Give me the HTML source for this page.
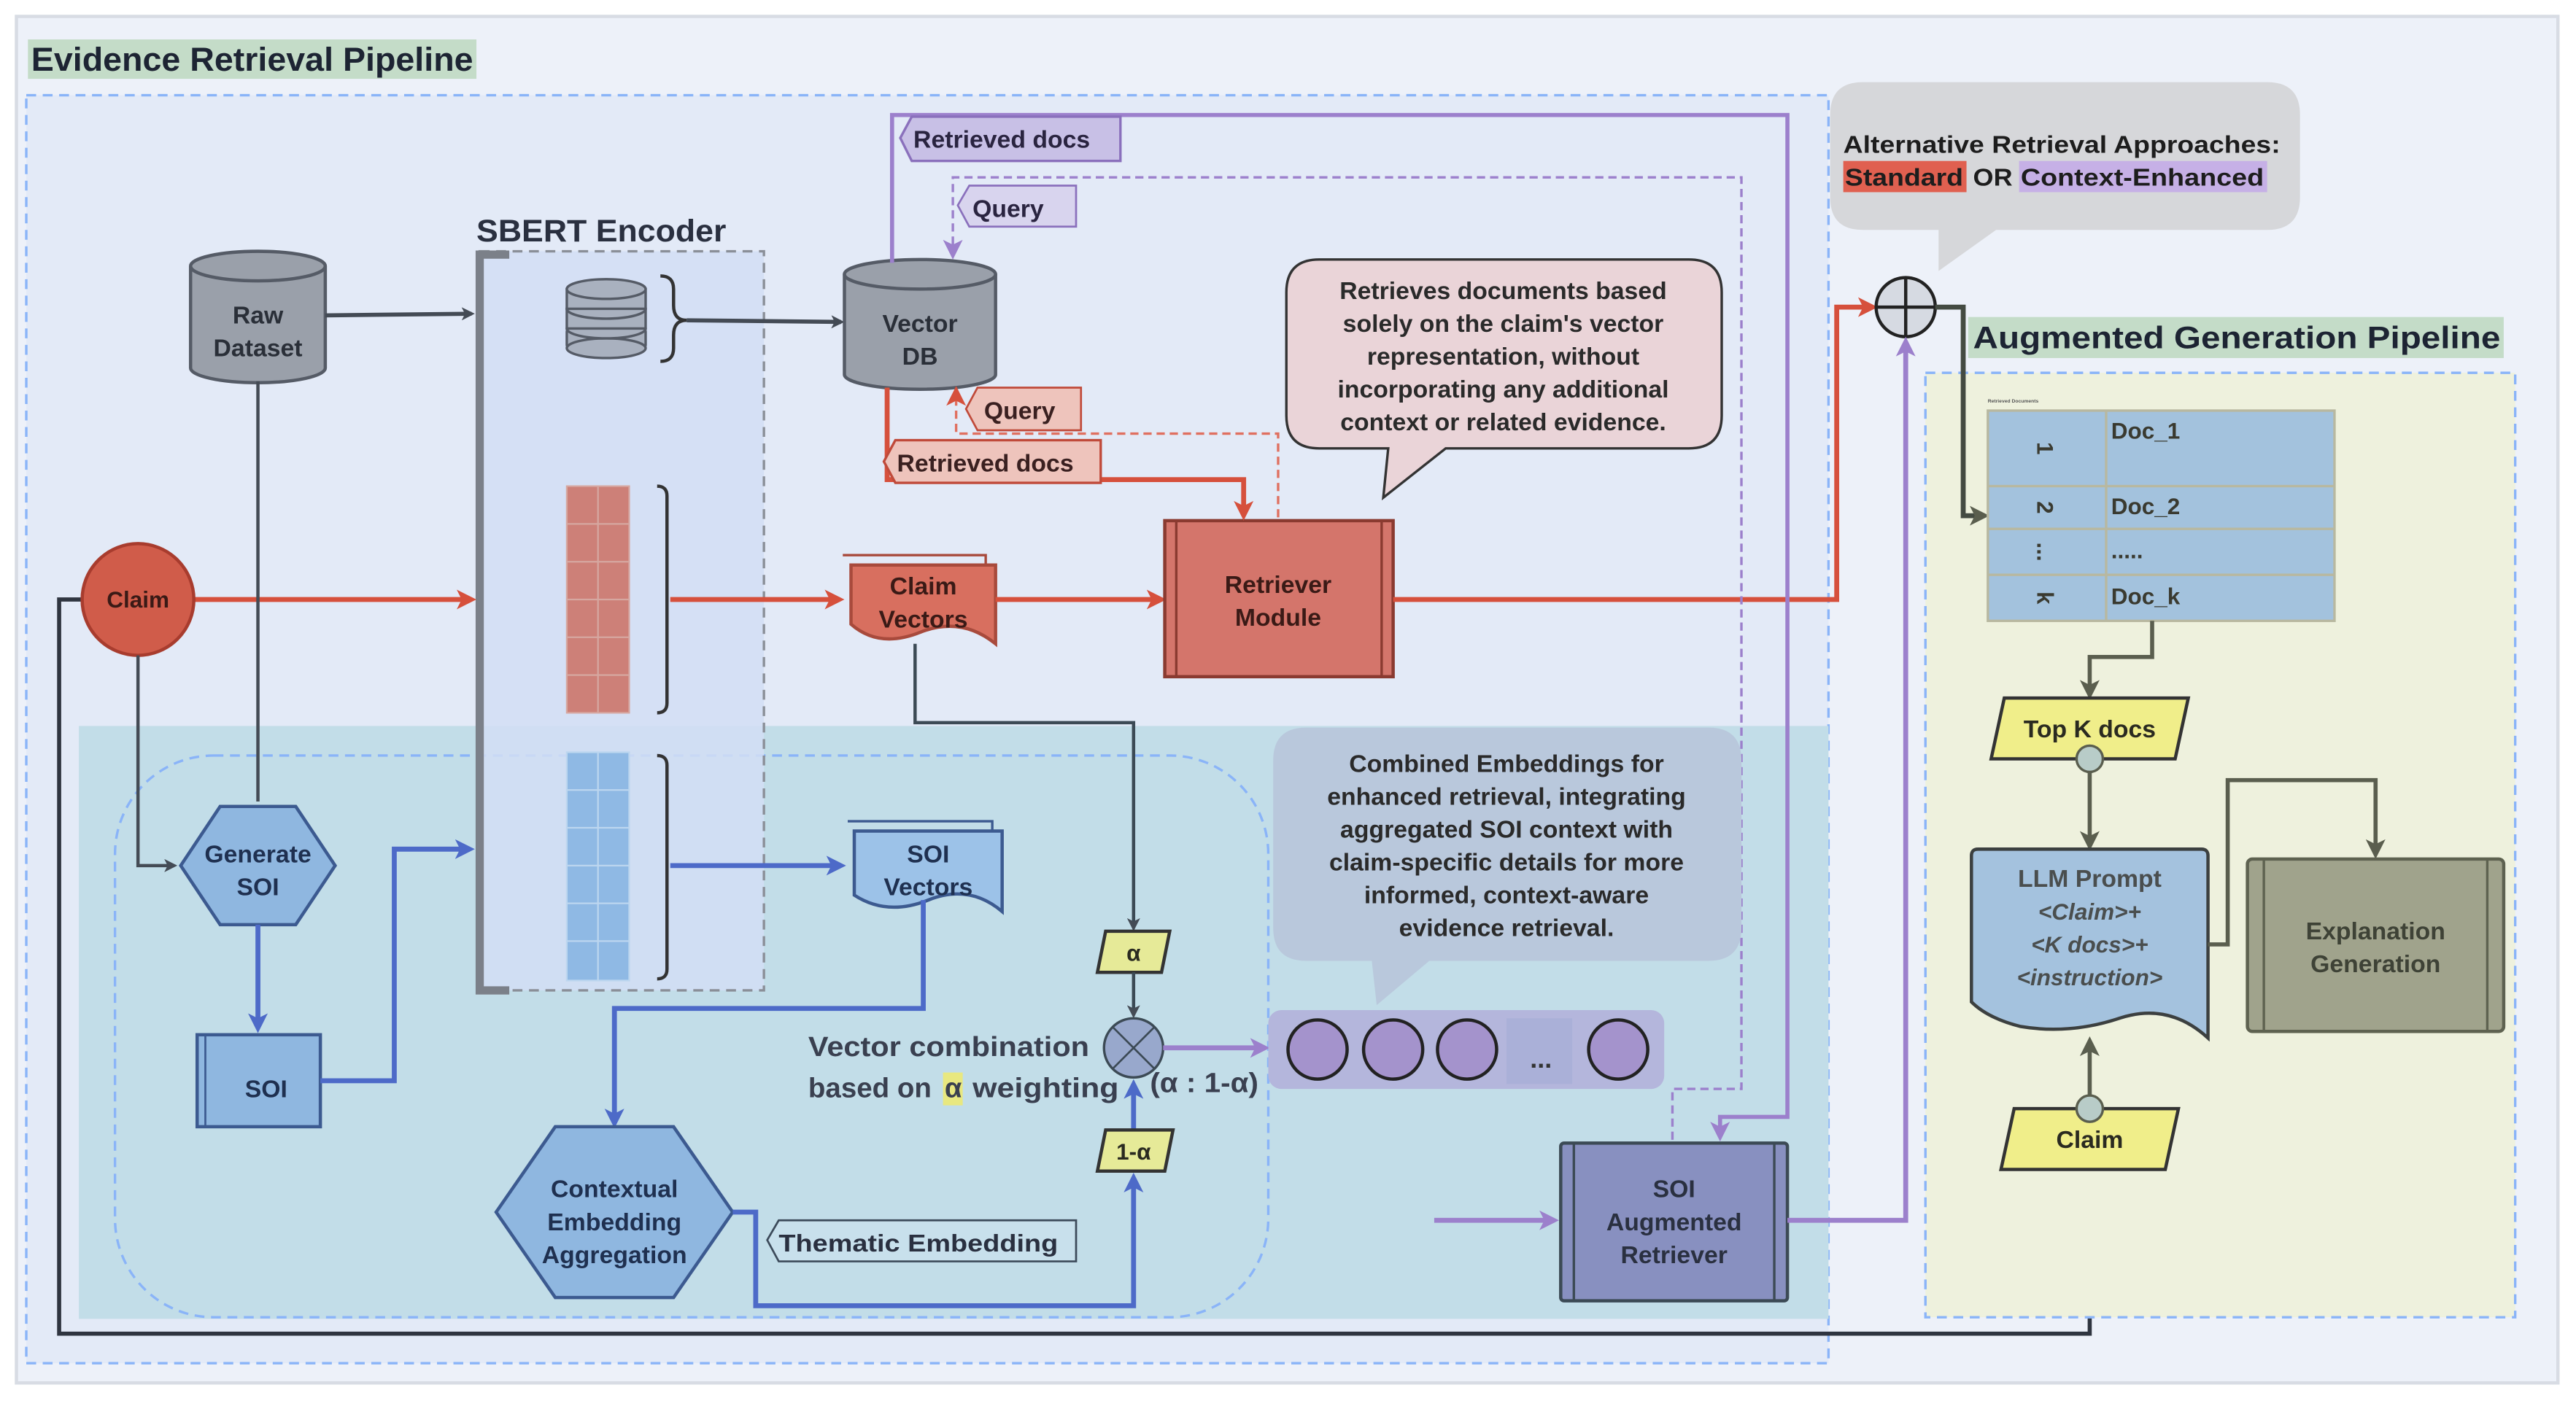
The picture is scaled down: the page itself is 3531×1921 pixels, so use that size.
<!DOCTYPE html>
<html><head><meta charset="utf-8"><style>
html,body{margin:0;padding:0;background:#fff;}
svg{display:block;}
text{font-family:"Liberation Sans",sans-serif;font-weight:bold;}
</style></head><body>
<svg width="3531" height="1921" viewBox="0 0 1568 853" preserveAspectRatio="none" xmlns="http://www.w3.org/2000/svg">
<defs>
<marker id="ad" markerWidth="8" markerHeight="8" refX="6" refY="4" orient="auto" markerUnits="userSpaceOnUse"><path d="M0,0 L8,4 L0,8 L2,4z" fill="#444b55"/></marker>
<marker id="ar" markerWidth="12" markerHeight="12" refX="9" refY="6" orient="auto" markerUnits="userSpaceOnUse"><path d="M0,0 L12,6 L0,12 L3,6z" fill="#d6503c"/></marker>
<marker id="ab" markerWidth="12" markerHeight="12" refX="9" refY="6" orient="auto" markerUnits="userSpaceOnUse"><path d="M0,0 L12,6 L0,12 L3,6z" fill="#4d6ac8"/></marker>
<marker id="ap" markerWidth="12" markerHeight="12" refX="9" refY="6" orient="auto" markerUnits="userSpaceOnUse"><path d="M0,0 L12,6 L0,12 L3,6z" fill="#9c80cc"/></marker>
<marker id="ag" markerWidth="12" markerHeight="12" refX="9" refY="6" orient="auto" markerUnits="userSpaceOnUse"><path d="M0,0 L12,6 L0,12 L3,6z" fill="#5a5e4e"/></marker>
</defs>
<rect x="0" y="0" width="1568" height="853" fill="#fff"/>
<rect x="10" y="10" width="1547" height="832" fill="#edf1f9" stroke="#d8dce4" stroke-width="2"/>
<!-- title -->
<rect x="17" y="24" width="273" height="24" fill="#c4dcc8"/>
<text x="19" y="43" font-size="20" fill="#1d2433" textLength="269" lengthAdjust="spacingAndGlyphs">Evidence Retrieval Pipeline</text>
<!-- left box -->
<rect x="16" y="58" width="1097" height="772" fill="#e3eaf7" stroke="#8ab4f8" stroke-dasharray="6,4" stroke-width="1.5"/>
<rect x="48" y="442" width="1065" height="361" fill="#c2dde8"/>
<rect x="70" y="460" width="702" height="342" rx="60" fill="none" stroke="#8ab4f8" stroke-dasharray="6,4" stroke-width="1.5"/>
<!-- SBERT -->
<rect x="292" y="153" width="173" height="450" fill="#d2def4" fill-opacity="0.85" stroke="#8a8f98" stroke-dasharray="6,4" stroke-width="1.5"/>
<path d="M310,155 L292,155 L292,603 L310,603" fill="none" stroke="#7b8089" stroke-width="5"/>
<text x="290" y="147" font-size="19" fill="#2a3040" textLength="152" lengthAdjust="spacingAndGlyphs">SBERT Encoder</text>
<!-- raw dataset -->
<path d="M116,162 L116,224 A41,9 0 0 0 198,224 L198,162" fill="#9aa0aa" stroke="#555b66" stroke-width="2"/>
<ellipse cx="157" cy="162" rx="41" ry="9" fill="#9aa0aa" stroke="#555b66" stroke-width="2"/>
<text x="157" y="197" font-size="15" fill="#2a2f38" text-anchor="middle">Raw</text>
<text x="157" y="217" font-size="15" fill="#2a2f38" text-anchor="middle">Dataset</text>
<line x1="198" y1="192" x2="287" y2="191" stroke="#444b55" stroke-width="2.5" marker-end="url(#ad)"/>
<!-- stacked disks -->
<g fill="#a9b1bf" stroke="#555b66" stroke-width="1.5">
<rect x="345" y="200" width="48" height="12" rx="2"/><ellipse cx="369" cy="212" rx="24" ry="6"/><ellipse cx="369" cy="200" rx="24" ry="6"/>
<rect x="345" y="188" width="48" height="12"/><ellipse cx="369" cy="188" rx="24" ry="6"/>
<rect x="345" y="176" width="48" height="12"/><ellipse cx="369" cy="176" rx="24" ry="6"/>
</g>
<path d="M402,168 Q410,168 410,176 L410,186 Q410,195 418,195 Q410,195 410,204 L410,212 Q410,220 402,220" fill="none" stroke="#333" stroke-width="2"/>
<line x1="418" y1="195" x2="512" y2="196" stroke="#444b55" stroke-width="2.5" marker-end="url(#ad)"/>
<!-- vector DB -->
<path d="M514,167 L514,228 A46,9 0 0 0 606,228 L606,167" fill="#9aa0aa" stroke="#555b66" stroke-width="2"/>
<ellipse cx="560" cy="167" rx="46" ry="9" fill="#9aa0aa" stroke="#555b66" stroke-width="2"/>
<text x="560" y="202" font-size="15" fill="#2a2f38" text-anchor="middle">Vector</text>
<text x="560" y="222" font-size="15" fill="#2a2f38" text-anchor="middle">DB</text>
<!-- red matrix -->
<g stroke="#d6a7a0" stroke-width="1">
<rect x="345" y="296" width="38" height="138" fill="#cd8078"/>
<line x1="364" y1="296" x2="364" y2="434"/><line x1="345" y1="319" x2="383" y2="319"/><line x1="345" y1="342" x2="383" y2="342"/><line x1="345" y1="365" x2="383" y2="365"/><line x1="345" y1="388" x2="383" y2="388"/><line x1="345" y1="411" x2="383" y2="411"/>
</g>
<path d="M400,296 Q406,296 406,302 L406,428 Q406,434 400,434" fill="none" stroke="#333" stroke-width="2"/>
<!-- blue matrix -->
<g stroke="#bcd6ef" stroke-width="1">
<rect x="345" y="458" width="38" height="139" fill="#8fb9e4"/>
<line x1="364" y1="458" x2="364" y2="597"/><line x1="345" y1="481" x2="383" y2="481"/><line x1="345" y1="504" x2="383" y2="504"/><line x1="345" y1="527" x2="383" y2="527"/><line x1="345" y1="550" x2="383" y2="550"/><line x1="345" y1="573" x2="383" y2="573"/>
</g>
<path d="M400,460 Q406,460 406,466 L406,590 Q406,596 400,596" fill="none" stroke="#333" stroke-width="2"/>
<!-- claim -->
<line x1="118" y1="365" x2="287" y2="365" stroke="#d6503c" stroke-width="3" marker-end="url(#ar)"/>
<line x1="408" y1="365" x2="511" y2="365" stroke="#d6503c" stroke-width="3" marker-end="url(#ar)"/>
<path d="M50,365 L36,365 L36,812 L1272,812 L1272,714" fill="none" stroke="#2f3540" stroke-width="2.5" marker-end="url(#ad)"/>
<circle cx="84" cy="365" r="34" fill="#d05c4a" stroke="#a83c2e" stroke-width="2"/>
<text x="84" y="370" font-size="14" fill="#3a1a16" text-anchor="middle">Claim</text>
<!-- claim vectors -->
<path d="M513,338 L600,338 L600,345" fill="none" stroke="#a84a3c" stroke-width="1.5"/>
<path d="M518,344 L606,344 L606,392 Q585,375 560,385 Q535,395 518,380 Z" fill="#d86f5f" stroke="#a84a3c" stroke-width="2"/>
<text x="562" y="362" font-size="15" fill="#3a1a16" text-anchor="middle">Claim</text>
<text x="562" y="382" font-size="15" fill="#3a1a16" text-anchor="middle">Vectors</text>
<line x1="606" y1="365" x2="707" y2="365" stroke="#d6503c" stroke-width="3" marker-end="url(#ar)"/>
<!-- retriever module -->
<rect x="709" y="317" width="139" height="95" fill="#d4756b" stroke="#8a3a30" stroke-width="2"/>
<line x1="716" y1="317" x2="716" y2="412" stroke="#8a3a30" stroke-width="1.5"/><line x1="841" y1="317" x2="841" y2="412" stroke="#8a3a30" stroke-width="1.5"/>
<text x="778" y="361" font-size="15" fill="#3a1a16" text-anchor="middle">Retriever</text>
<text x="778" y="381" font-size="15" fill="#3a1a16" text-anchor="middle">Module</text>
<path d="M848,365 L1118,365 L1118,187 L1140,187" fill="none" stroke="#d6503c" stroke-width="3" marker-end="url(#ar)"/>
<!-- red top connectors -->
<path d="M540,236 L540,292 L757,292 L757,314" fill="none" stroke="#d6503c" stroke-width="3" marker-end="url(#ar)"/>
<path d="M778,315 L778,264 L582,264 L582,238" fill="none" stroke="#e07060" stroke-width="1.5" stroke-dasharray="5,3" marker-end="url(#ar)"/>
<path d="M545,268 L670,268 L670,294 L545,294 L538,281 Z" fill="#eec4bc" stroke="#c04a3a" stroke-width="1.5"/>
<text x="546" y="287" font-size="15" fill="#3a2020" font-weight="normal">Retrieved docs</text>
<path d="M595,236 L658,236 L658,262 L595,262 L588,249 Z" fill="#eec4bc" stroke="#c04a3a" stroke-width="1.2"/>
<text x="599" y="255" font-size="15" fill="#3a2020" font-weight="normal">Query</text>
<!-- purple top connectors -->
<path d="M543,160 L543,70 L1088,70 L1088,680 L1047,680 L1047,692" fill="none" stroke="#9c80cc" stroke-width="2.5" marker-end="url(#ap)"/>
<path d="M1018,694 L1018,663 L1060,663 L1060,108 L580,108 L580,155" fill="none" stroke="#9c80cc" stroke-width="1.5" stroke-dasharray="5,3" marker-end="url(#ap)"/>
<path d="M555,71 L682,71 L682,98 L555,98 L548,84 Z" fill="#c8c0e6" stroke="#8a70bc" stroke-width="1.5"/>
<text x="556" y="90" font-size="15" fill="#2a2440" font-weight="normal">Retrieved docs</text>
<path d="M590,113 L655,113 L655,138 L590,138 L583,125 Z" fill="#d8d4ee" stroke="#8a70bc" stroke-width="1.2"/>
<text x="592" y="132" font-size="15" fill="#2a2440" font-weight="normal">Query</text>
<!-- retrieves bubble -->
<path d="M803,158 L1028,158 Q1048,158 1048,178 L1048,253 Q1048,273 1028,273 L880,273 L842,303 L845,273 L803,273 Q783,273 783,253 L783,178 Q783,158 803,158 Z" fill="#ead4d8" stroke="#333" stroke-width="1.5"/>
<g font-size="15" fill="#2a2a2a" text-anchor="middle">
<text x="915" y="182">Retrieves documents based</text>
<text x="915" y="202">solely on the claim's vector</text>
<text x="915" y="222">representation, without</text>
<text x="915" y="242">incorporating any additional</text>
<text x="915" y="262">context or related evidence.</text>
</g>
<!-- alt bubble -->
<path d="M1134,50 L1380,50 Q1400,50 1400,70 L1400,120 Q1400,140 1380,140 L1215,140 L1180,165 L1180,140 L1134,140 Q1114,140 1114,120 L1114,70 Q1114,50 1134,50 Z" fill="#d6d7da"/>
<text x="1122" y="93" font-size="15" fill="#1d1d1d" textLength="266" lengthAdjust="spacingAndGlyphs">Alternative Retrieval Approaches:</text>
<rect x="1122" y="98" width="75" height="19" fill="#e06050"/>
<rect x="1229" y="98" width="151" height="19" fill="#c6b0e6"/>
<text x="1123" y="113" font-size="15" fill="#1d1d1d" textLength="72" lengthAdjust="spacingAndGlyphs">Standard</text>
<text x="1201" y="113" font-size="15" fill="#1d1d1d" textLength="24" lengthAdjust="spacingAndGlyphs">OR</text>
<text x="1230" y="113" font-size="15" fill="#1d1d1d" textLength="148" lengthAdjust="spacingAndGlyphs">Context-Enhanced</text>
<!-- plus circle -->
<circle cx="1160" cy="187" r="18" fill="#d6dae2" stroke="#222" stroke-width="2"/>
<line x1="1142" y1="187" x2="1178" y2="187" stroke="#222" stroke-width="2"/><line x1="1160" y1="169" x2="1160" y2="205" stroke="#222" stroke-width="2"/>
<!-- right pipeline -->
<rect x="1198" y="193" width="326" height="25" fill="#c4dcc8"/>
<text x="1201" y="212" font-size="19" fill="#1d2433" textLength="321" lengthAdjust="spacingAndGlyphs">Augmented Generation Pipeline</text>
<rect x="1172" y="227" width="359" height="575" fill="#eef1dd" stroke="#8ab4f8" stroke-dasharray="6,4" stroke-width="1.5"/>
<path d="M1178,187 L1195,187 L1195,314 L1208,314" fill="none" stroke="#444b42" stroke-width="3" marker-end="url(#ag)"/>
<text x="1210" y="245" font-size="3" fill="#555" font-weight="normal">Retrieved Documents</text>
<g stroke="#b8b8a0" stroke-width="1.5">
<rect x="1210" y="250" width="211" height="128" fill="#a3c2dd"/>
<line x1="1282" y1="250" x2="1282" y2="378"/><line x1="1210" y1="296" x2="1421" y2="296"/><line x1="1210" y1="322" x2="1421" y2="322"/><line x1="1210" y1="350" x2="1421" y2="350"/>
</g>
<g font-size="14" fill="#3a3a30">
<text x="1285" y="267">Doc_1</text><text x="1285" y="313">Doc_2</text><text x="1285" y="340">.....</text><text x="1285" y="368">Doc_k</text>
<text transform="translate(1240,273) rotate(90)" text-anchor="middle">1</text>
<text transform="translate(1240,309) rotate(90)" text-anchor="middle">2</text>
<text transform="translate(1240,336) rotate(90)" text-anchor="middle">...</text>
<text transform="translate(1240,364) rotate(90)" text-anchor="middle">k</text>
</g>
<path d="M1310,378 L1310,400 L1272,400 L1272,423" fill="none" stroke="#5a5e4e" stroke-width="2.5" marker-end="url(#ag)"/>
<path d="M1220,425 L1332,425 L1324,462 L1212,462 Z" fill="#f0ee8a" stroke="#333" stroke-width="2"/>
<text x="1272" y="449" font-size="15" fill="#2a2a20" text-anchor="middle">Top K docs</text>
<line x1="1272" y1="462" x2="1272" y2="515" stroke="#5a5e4e" stroke-width="2.5" marker-end="url(#ag)"/>
<circle cx="1272" cy="462" r="8" fill="#b8ccc8" stroke="#5a5e4e" stroke-width="1.5"/>
<path d="M1204,517 L1340,517 Q1344,517 1344,521 L1344,632 Q1320,610 1290,620 Q1260,630 1230,625 Q1210,620 1200,610 L1200,521 Q1200,517 1204,517 Z" fill="#a4c2de" stroke="#3c4040" stroke-width="2"/>
<text x="1272" y="540" font-size="15" fill="#4a4e4e" text-anchor="middle">LLM Prompt</text>
<g font-size="14" fill="#4a4e4e" text-anchor="middle" font-style="italic" style="font-weight:normal">
<text x="1272" y="560">&lt;Claim&gt;+</text><text x="1272" y="580">&lt;K docs&gt;+</text><text x="1272" y="600">&lt;instruction&gt;</text>
</g>
<path d="M1344,575 L1356,575 L1356,475 L1446,475 L1446,520" fill="none" stroke="#5a5e4e" stroke-width="2.5" marker-end="url(#ag)"/>
<rect x="1368" y="523" width="156" height="105" rx="3" fill="#a0a38c" stroke="#5e6250" stroke-width="2"/>
<line x1="1378" y1="523" x2="1378" y2="628" stroke="#5e6250" stroke-width="1.5"/><line x1="1514" y1="523" x2="1514" y2="628" stroke="#5e6250" stroke-width="1.5"/>
<text x="1446" y="572" font-size="15" fill="#3e4236" text-anchor="middle">Explanation</text>
<text x="1446" y="592" font-size="15" fill="#3e4236" text-anchor="middle">Generation</text>
<line x1="1272" y1="675" x2="1272" y2="634" stroke="#5a5e4e" stroke-width="2.5" marker-end="url(#ag)"/>
<path d="M1226,675 L1326,675 L1318,712 L1218,712 Z" fill="#f0ee8a" stroke="#333" stroke-width="2"/>
<circle cx="1272" cy="675" r="8" fill="#b8ccc8" stroke="#5a5e4e" stroke-width="1.5"/>
<text x="1272" y="699" font-size="15" fill="#2a2a20" text-anchor="middle">Claim</text>
<!-- lower left flow -->
<line x1="157" y1="232" x2="157" y2="488" stroke="#444b55" stroke-width="2"/>
<path d="M84,399 L84,527 L106,527" fill="none" stroke="#444b55" stroke-width="2" marker-end="url(#ad)"/>
<polygon points="134,491 180,491 204,527 180,563 134,563 110,527" fill="#8fb7e0" stroke="#3c5a90" stroke-width="2"/>
<text x="157" y="525" font-size="15" fill="#1f3050" text-anchor="middle">Generate</text>
<text x="157" y="545" font-size="15" fill="#1f3050" text-anchor="middle">SOI</text>
<line x1="157" y1="563" x2="157" y2="626" stroke="#4d6ac8" stroke-width="3" marker-end="url(#ab)"/>
<rect x="120" y="630" width="75" height="56" fill="#8fb7e0" stroke="#3c5a90" stroke-width="2"/>
<line x1="125" y1="630" x2="125" y2="686" stroke="#3c5a90" stroke-width="1.2"/>
<text x="162" y="668" font-size="15" fill="#1f3050" text-anchor="middle">SOI</text>
<path d="M195,658 L240,658 L240,517 L286,517" fill="none" stroke="#4d6ac8" stroke-width="3" marker-end="url(#ab)"/>
<line x1="408" y1="527" x2="512" y2="527" stroke="#4d6ac8" stroke-width="3" marker-end="url(#ab)"/>
<path d="M516,500 L604,500 L604,506" fill="none" stroke="#3c5a90" stroke-width="1.5"/>
<path d="M520,506 L610,506 L610,555 Q590,538 565,548 Q540,558 520,545 Z" fill="#9cc2e8" stroke="#3c5a90" stroke-width="2"/>
<text x="565" y="525" font-size="15" fill="#1f3050" text-anchor="middle">SOI</text>
<text x="565" y="545" font-size="15" fill="#1f3050" text-anchor="middle">Vectors</text>
<path d="M562,548 L562,614 L374,614 L374,684" fill="none" stroke="#4d6ac8" stroke-width="3" marker-end="url(#ab)"/>
<polygon points="338,686 410,686 446,738 410,790 338,790 302,738" fill="#8fb7e0" stroke="#3c5a90" stroke-width="2"/>
<text x="374" y="729" font-size="15" fill="#1f3050" text-anchor="middle">Contextual</text>
<text x="374" y="749" font-size="15" fill="#1f3050" text-anchor="middle">Embedding</text>
<text x="374" y="769" font-size="15" fill="#1f3050" text-anchor="middle">Aggregation</text>
<path d="M446,738 L460,738 L460,795 L690,795 L690,717" fill="none" stroke="#4d6ac8" stroke-width="3" marker-end="url(#ab)"/>
<path d="M474,743 L655,743 L655,768 L474,768 L467,755 Z" fill="#c8e0ec" stroke="#3c4a5a" stroke-width="1.2"/>
<text x="474" y="762" font-size="15" fill="#2a3040" textLength="170" lengthAdjust="spacingAndGlyphs">Thematic Embedding</text>
<path d="M557,392 L557,440 L690,440 L690,565" fill="none" stroke="#3c4a55" stroke-width="2" marker-end="url(#ad)"/>
<path d="M673,567 L712,567 L707,592 L668,592 Z" fill="#e6ea98" stroke="#333" stroke-width="2"/>
<text x="690" y="585" font-size="14" fill="#2a2a20" text-anchor="middle">α</text>
<line x1="690" y1="592" x2="690" y2="618" stroke="#3c4a55" stroke-width="2" marker-end="url(#ad)"/>
<line x1="690" y1="688" x2="690" y2="660" stroke="#4d6ac8" stroke-width="3" marker-end="url(#ab)"/>
<path d="M673,688 L714,688 L709,713 L668,713 Z" fill="#e6ea98" stroke="#333" stroke-width="2"/>
<text x="690" y="706" font-size="14" fill="#2a2a20" text-anchor="middle">1-α</text>
<circle cx="690" cy="638" r="18" fill="#98a8cc" stroke="#3c4a55" stroke-width="1.5"/>
<line x1="677" y1="625" x2="703" y2="651" stroke="#3c4a55" stroke-width="1.2"/><line x1="703" y1="625" x2="677" y2="651" stroke="#3c4a55" stroke-width="1.2"/>
<text x="492" y="643" font-size="17" fill="#3a4050" textLength="171" lengthAdjust="spacingAndGlyphs">Vector combination</text>
<rect x="574" y="653" width="12" height="20" fill="#e8e880"/>
<text x="492" y="668" font-size="17" fill="#3a4050" textLength="75" lengthAdjust="spacingAndGlyphs">based on</text>
<text x="575" y="668" font-size="17" fill="#3a4050">α</text>
<text x="592" y="668" font-size="17" fill="#3a4050" textLength="89" lengthAdjust="spacingAndGlyphs">weighting</text>
<text x="700" y="665" font-size="17" fill="#3a4050" textLength="66" lengthAdjust="spacingAndGlyphs">(α : 1-α)</text>
<line x1="708" y1="638" x2="770" y2="638" stroke="#9c80cc" stroke-width="3" marker-end="url(#ap)"/>
<!-- combined bubble -->
<path d="M795,443 L1040,443 Q1060,443 1060,463 L1060,565 Q1060,585 1040,585 L870,585 L838,612 L835,585 L795,585 Q775,585 775,565 L775,463 Q775,443 795,443 Z" fill="#b9c8dc"/>
<g font-size="15" fill="#2a2a2a" text-anchor="middle">
<text x="917" y="470">Combined Embeddings for</text>
<text x="917" y="490">enhanced retrieval, integrating</text>
<text x="917" y="510">aggregated SOI context with</text>
<text x="917" y="530">claim-specific details for more</text>
<text x="917" y="550">informed, context-aware</text>
<text x="917" y="570">evidence retrieval.</text>
</g>
<rect x="772" y="615" width="241" height="48" rx="8" fill="#b4b6dc"/>
<rect x="917" y="620" width="40" height="40" fill="#aab0d8"/>
<g fill="#a493cc" stroke="#222" stroke-width="2">
<circle cx="802" cy="639" r="18"/><circle cx="848" cy="639" r="18"/><circle cx="893" cy="639" r="18"/><circle cx="985" cy="639" r="18"/>
</g>
<text x="938" y="650" font-size="16" fill="#333" text-anchor="middle">...</text>
<!-- SOI augmented -->
<line x1="873" y1="743" x2="946" y2="743" stroke="#9c80cc" stroke-width="3" marker-end="url(#ap)"/>
<rect x="950" y="696" width="138" height="96" rx="2" fill="#8890c0" stroke="#3c4a55" stroke-width="2"/>
<line x1="958" y1="696" x2="958" y2="792" stroke="#3c4a55" stroke-width="1.5"/><line x1="1080" y1="696" x2="1080" y2="792" stroke="#3c4a55" stroke-width="1.5"/>
<text x="1019" y="729" font-size="15" fill="#2a3040" text-anchor="middle">SOI</text>
<text x="1019" y="749" font-size="15" fill="#2a3040" text-anchor="middle">Augmented</text>
<text x="1019" y="769" font-size="15" fill="#2a3040" text-anchor="middle">Retriever</text>
<path d="M1088,743 L1160,743 L1160,208" fill="none" stroke="#9c80cc" stroke-width="3" marker-end="url(#ap)"/>
</svg>
</body></html>
